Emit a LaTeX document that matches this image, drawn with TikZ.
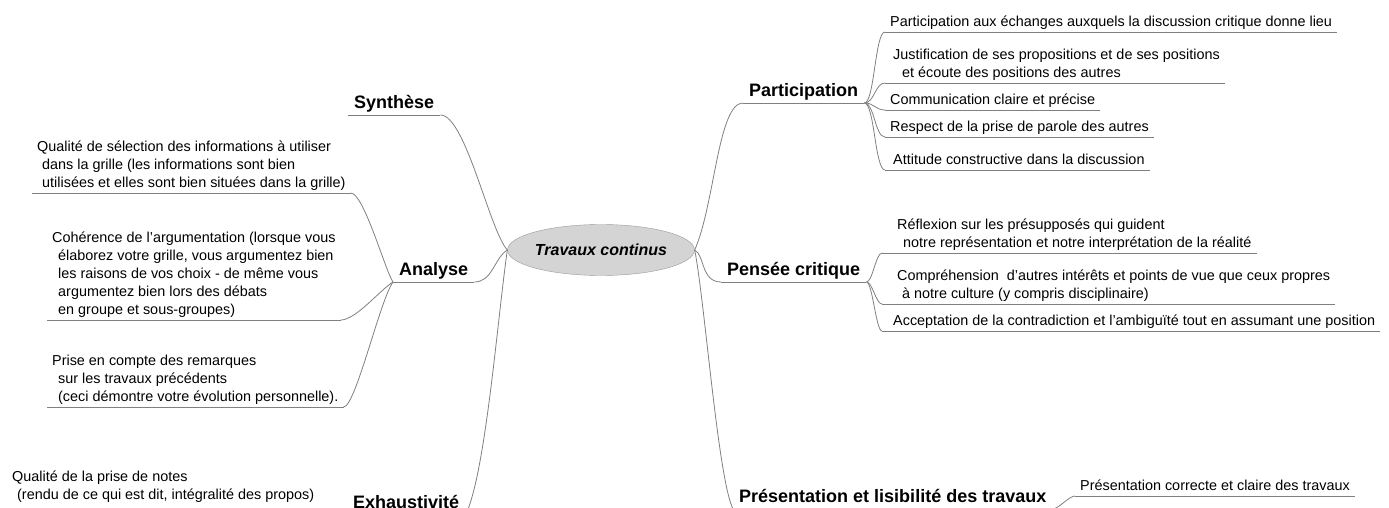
\documentclass[tikz,border=0pt]{standalone}
\usepackage{fontspec}
\setmainfont{Liberation Sans}
\usetikzlibrary{shapes.geometric}
\newcommand{\itemlines}[1]{\begin{tabular}[b]{@{}l@{}}#1\end{tabular}}
\begin{document}
\begin{tikzpicture}[x=1pt,y=-1pt,
	link/.style={draw=black!50,line width=0.8pt},
	topic/.style={anchor=south west,inner xsep=6pt,inner ysep=0pt,text depth=6pt,font=\fontsize{18}{22}\selectfont\bfseries},
	leaf/.style={anchor=south west,inner xsep=5pt,inner ysep=0pt,font=\fontsize{14.4}{18}\selectfont}]
	\useasboundingbox (0,0) rectangle (1389,508);
	\clip (0,0) rectangle (1389,508);
	\node[ellipse,draw=black!40,fill=black!17,minimum width=157pt,minimum height=51pt,inner sep=0pt,font=\fontsize{16}{18}\selectfont\bfseries\itshape] (tc) at (601,250) {Travaux continus};
	\node[topic] (syn) at (348,115) {Synthèse};
	\node[topic] (ana) at (393,282) {Analyse};
	\node[topic] (exh) at (347,515) {Exhaustivité};
	\node[topic] (par) at (743,103) {Participation};
	\node[topic] (pen) at (721,282) {Pensée critique};
	\node[topic] (pre) at (733,509) {Présentation et lisibilité des travaux};
	\node[leaf] (a1) at (32,193) {\itemlines{Qualité de sélection des informations à utiliser\\\hspace{5pt}dans la grille (les informations sont bien\\\hspace{5pt}utilisées et elles sont bien situées dans la grille)}};
	\node[leaf] (a2) at (47,320) {\itemlines{Cohérence de l’argumentation (lorsque vous\\\hspace{6pt}élaborez votre grille, vous argumentez bien\\\hspace{6pt}les raisons de vos choix - de même vous\\\hspace{6pt}argumentez bien lors des débats\\\hspace{6pt}en groupe et sous-groupes)}};
	\node[leaf] (a3) at (47,407) {\itemlines{Prise en compte des remarques\\\hspace{6pt}sur les travaux précédents\\\hspace{6pt}(ceci démontre votre évolution personnelle).}};
	\node[leaf] (e1) at (7,505) {\itemlines{Qualité de la prise de notes\\\hspace{5pt}(rendu de ce qui est dit, intégralité des propos)}};
	\node[leaf] (p1) at (885,32) {\itemlines{Participation aux échanges auxquels la discussion critique donne lieu}};
	\node[leaf] (p2) at (885,83) {\itemlines{\hspace{3pt}Justification de ses propositions et de ses positions\\\hspace{12pt}et écoute des positions des autres}};
	\node[leaf] (p3) at (885,110) {\itemlines{Communication claire et précise}};
	\node[leaf] (p4) at (885,137) {\itemlines{Respect de la prise de parole des autres}};
	\node[leaf] (p5) at (885,170) {\itemlines{\hspace{3pt}Attitude constructive dans la discussion}};
	\node[leaf] (c1) at (882,253) {\itemlines{\hspace{10pt}Réflexion sur les présupposés qui guident\\\hspace{16pt}notre représentation et notre interprétation de la réalité}};
	\node[leaf] (c2) at (882,304) {\itemlines{\hspace{10pt}Compréhension\ \ d'autres intérêts et points de vue que ceux propres\\\hspace{15pt}à notre culture (y compris disciplinaire)}};
	\node[leaf] (c3) at (882,331) {\itemlines{\hspace{6pt}Acceptation de la contradiction et l'ambiguïté tout en assumant une position}};
	\node[leaf] (r1) at (1075,496) {\itemlines{Présentation correcte et claire des travaux}};
	\foreach \n in {syn,ana,exh,par,pen,pre,a1,a2,a3,p1,p2,p3,p4,p5,c1,c2,c3,r1}
		\draw[link] (\n.south west) -- (\n.south east);
	\draw[link] (syn.south east) .. controls +(25,0) and +(-18,-20) .. (tc.west);
	\draw[link] (ana.south east) .. controls +(18,0) and +(-13,8) .. (tc.west);
	\draw[link] (tc.west) .. controls +(-10,70) and +(20,-40) .. (exh.south east);
	\draw[link] (a1.south east) .. controls +(13,0) and +(-8,-12) .. (ana.south west);
	\draw[link] (a2.south east) .. controls +(15,0) and +(-13,8) .. (ana.south west);
	\draw[link] (a3.south east) .. controls +(12,0) and +(-13,18) .. (ana.south west);
	\draw[link] (tc.east) .. controls +(20,-45) and +(-25,0) .. (par.south west);
	\draw[link] (tc.east) .. controls +(10,5) and +(-20,0) .. (pen.south west);
	\draw[link] (tc.east) .. controls +(10,50) and +(-15,-30) .. (pre.south west);
	\foreach \n in {p1,p2,p3,p4,p5}
		\draw[link] (par.south east) .. controls +(10,0) and +(-10,0) .. (\n.south west);
	\foreach \n in {c1,c2,c3}
		\draw[link] (pen.south east) .. controls +(6,0) and +(-6,0) .. (\n.south west);
	\draw[link] (pre.south east) .. controls +(6,0) and +(-6,0) .. (r1.south west);
\end{tikzpicture}
\end{document}
